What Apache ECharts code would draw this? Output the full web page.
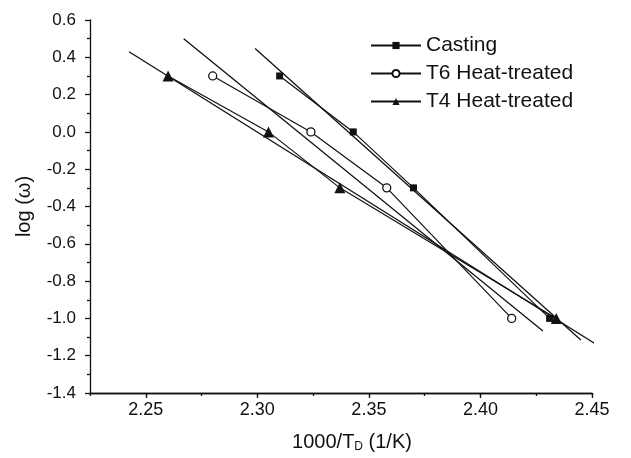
<!DOCTYPE html>
<html>
<head>
<meta charset="utf-8">
<script src="https://cdn.jsdelivr.net/npm/echarts@6/dist/echarts.min.js"></script>
<style>html,body{margin:0;padding:0;background:#fff}#c{width:631px;height:458px}</style>
</head>
<body>
<div id="c"></div>
<script>
// ---- data ----
const seriesNames = ['Casting', 'T6 Heat-treated', 'T4 Heat-treated'];
const castingX = [2.310, 2.343, 2.370, 2.431];
const castingY = [0.30, 0.00, -0.30, -1.00];
const t6X = [2.280, 2.324, 2.358, 2.414];
const t6Y = [0.30, 0.00, -0.30, -1.00];
const t4X = [2.260, 2.305, 2.337, 2.434];
const t4Y = [0.30, 0.00, -0.30, -1.00];
// linear fit lines (end points)
const castingFitX = [2.299, 2.445];
const castingFitY = [0.447, -1.116];
const t6FitX = [2.267, 2.428];
const t6FitY = [0.500, -1.067];
const t4FitX = [2.2425, 2.4515];
const t4FitY = [0.430, -1.137];
// tick labels
const xTickValues = [2.25, 2.30, 2.35, 2.40, 2.45];

const zip = (xs, ys) => xs.map((x, i) => [x, ys[i]]);
const FONT = 'Liberation Sans, Arial, sans-serif';
const INK = '#111';

const chart = echarts.init(document.getElementById('c'), null, {renderer: 'canvas'});
const pointStyle = {type: 'line', xAxisIndex: 0, yAxisIndex: 0, lineStyle: {color: INK, width: 1.2}, z: 3};
const fitStyle = {type: 'line', xAxisIndex: 0, yAxisIndex: 0, showSymbol: false, symbol: 'none', clip: false,
  lineStyle: {color: INK, width: 1.3}, silent: true, z: 2};

chart.setOption({
  animation: false,
  backgroundColor: '#fff',
  grid: {left: 90, right: 39, top: 20, bottom: 58, containLabel: false},
  legend: {
    orient: 'vertical', left: 365, top: 30, itemWidth: 50, itemHeight: 9, itemGap: 7,
    data: seriesNames,
    textStyle: {fontFamily: FONT, fontSize: 21, color: INK}
  },
  xAxis: [{
    type: 'value', min: 2.225, max: 2.45,
    name: '{a|1000/T}{s|D}{b| (1/K)}', nameLocation: 'middle', nameGap: 38,
    nameTextStyle: {rich: {
      a: {fontFamily: FONT, fontSize: 20, color: INK, padding: [0, 0, 0, 22]},
      b: {fontFamily: FONT, fontSize: 20, color: INK},
      s: {fontFamily: FONT, fontSize: 12, color: INK, verticalAlign: 'bottom', padding: [10, 0, 0, 0]}
    }},
    axisLine: {show: true, onZero: false, lineStyle: {color: INK, width: 1.3}},
    axisTick: {show: true, inside: false, length: 5, customValues: xTickValues, lineStyle: {color: INK, width: 1.3}},
    axisLabel: {show: true, margin: 8, customValues: xTickValues, fontFamily: FONT, fontSize: 18, color: INK,
      formatter: v => v.toFixed(2)},
    splitLine: {show: false}
  }, {
    // minor ticks every 0.025 (min 2.225 is a multiple of 0.025)
    type: 'value', min: 2.225, max: 2.45, interval: 0.025, position: 'bottom', offset: 0,
    axisLine: {show: true, onZero: false, lineStyle: {color: INK, width: 1.3}},
    axisTick: {show: true, inside: false, length: 3, lineStyle: {color: INK, width: 1.3}},
    axisLabel: {show: false},
    splitLine: {show: false}
  }],
  yAxis: [{
    type: 'value', min: -1.4, max: 0.6, interval: 0.2,
    name: 'log (ω)', nameLocation: 'middle', nameGap: 56,
    nameTextStyle: {fontFamily: FONT, fontSize: 20, color: INK},
    axisLine: {show: true, onZero: false, lineStyle: {color: INK, width: 1.3}},
    axisTick: {show: true, inside: false, length: 5, lineStyle: {color: INK, width: 1.3}},
    minorTick: {show: true, splitNumber: 2, length: 3, lineStyle: {color: INK, width: 1.3}},
    axisLabel: {margin: 14, fontFamily: FONT, fontSize: 17, color: INK, formatter: v => v.toFixed(1)},
    splitLine: {show: false}
  }],
  series: [
    Object.assign({}, pointStyle, {name: seriesNames[0], data: zip(castingX, castingY),
      symbol: 'rect', symbolSize: 7, itemStyle: {color: INK}}),
    Object.assign({}, pointStyle, {name: seriesNames[1], data: zip(t6X, t6Y),
      symbol: 'circle', symbolSize: 8, itemStyle: {color: '#fff', borderColor: INK, borderWidth: 1.3}}),
    Object.assign({}, pointStyle, {name: seriesNames[2], data: zip(t4X, t4Y),
      symbol: 'triangle', symbolSize: 11, itemStyle: {color: INK}}),
    Object.assign({}, fitStyle, {name: 'fitC', data: zip(castingFitX, castingFitY)}),
    Object.assign({}, fitStyle, {name: 'fitT6', data: zip(t6FitX, t6FitY)}),
    Object.assign({}, fitStyle, {name: 'fitT4', data: zip(t4FitX, t4FitY)})
  ]
});
</script>
</body>
</html>
